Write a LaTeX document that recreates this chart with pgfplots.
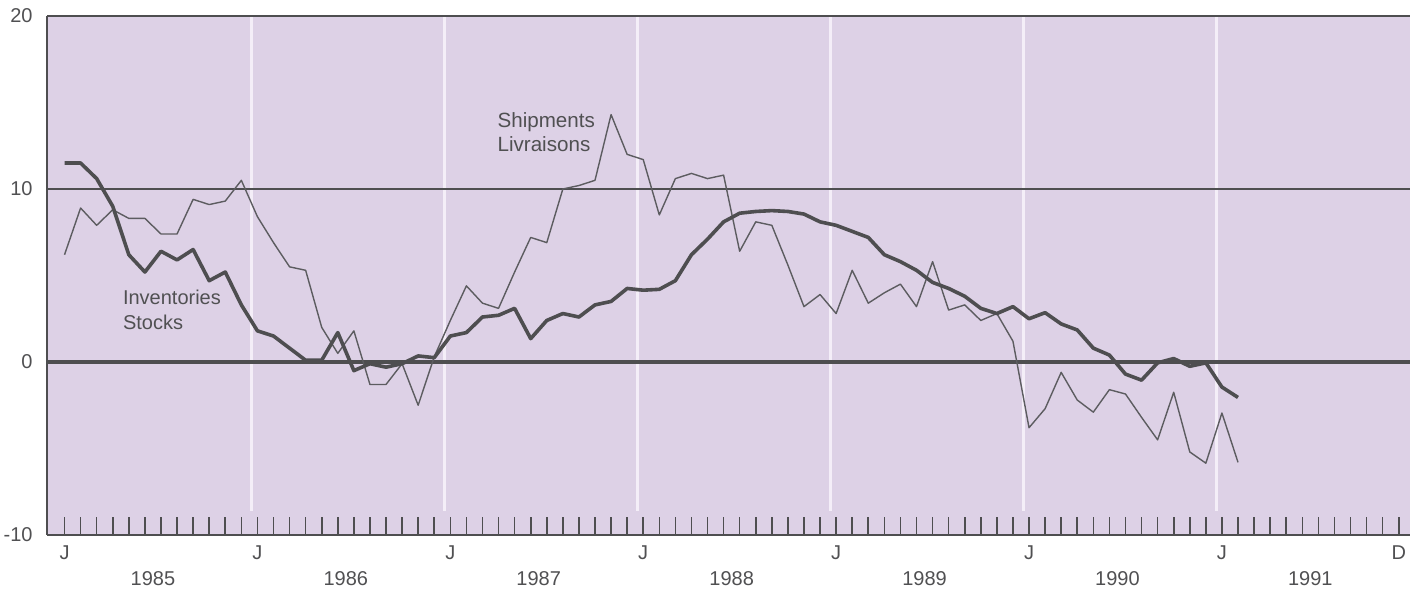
\documentclass[border=0pt]{standalone}
\usepackage{fontspec}
\setmainfont{Liberation Sans}
\usepackage{pgfplots}
\pgfplotsset{compat=1.18}
\definecolor{lav}{RGB}{221,209,230}
\definecolor{ln}{RGB}{78,78,80}
\definecolor{shipc}{RGB}{92,92,96}
\definecolor{txt}{RGB}{80,80,82}
\definecolor{wl}{RGB}{244,238,248}
\begin{document}
\begin{tikzpicture}
\begin{axis}[
  scale only axis, width=681.5pt, height=259.5pt,
  xmin=-1.09, xmax=83.7, ymin=-10, ymax=20,
  axis background/.style={fill=lav},
  axis lines*=left,
  axis line style={ln, line width=1pt},
  /pgf/number format/assume math mode=true,
  ytick={-10,0,10,20},
  ytick style={draw=none},
  yticklabel style={font=\fontsize{10}{12}\selectfont, text=txt, xshift=-3.7pt},
  xtick={0,12,24,36,48,60,72,83},
  xticklabels={J,J,J,J,J,J,J,D},
  minor xtick={1,...,82},
  tick align=inside,
  major tick length=9pt, minor tick length=9pt,
  major x tick style={ln, line width=0.8pt},
  minor x tick style={ln, line width=0.8pt},
  xticklabel style={font=\fontsize{10}{12}\selectfont, text=txt, yshift=-2pt},
  extra x ticks={5.5,17.5,29.5,41.5,53.5,65.5,77.5},
  extra x tick labels={1985,1986,1987,1988,1989,1990,1991},
  extra x tick style={major x tick style={draw=none}, tick label style={yshift=-12.6pt}},
]
\pgfplotsinvokeforeach{11.65,23.65,35.65,47.65,59.65,71.65}{
  \draw[wl, line width=1.6pt] (axis cs:#1,-8.6) -- (axis cs:#1,20);
}
\draw[ln, line width=0.8pt] (axis cs:-1.09,10) -- (axis cs:83.7,10);
\draw[ln, line width=1.6pt] (axis cs:-1.09,0) -- (axis cs:83.7,0);
\draw[ln, line width=0.9pt] (rel axis cs:0,1) -- (rel axis cs:1,1);

% Shipments / Livraisons
\addplot[color=shipc, line width=0.7pt, line join=round, mark=none] coordinates {
(0,6.2) (1,8.9) (2,7.9) (3,8.8) (4,8.3) (5,8.3) (6,7.4) (7,7.4) (8,9.4) (9,9.1) (10,9.3) (11,10.5)
(12,8.4) (13,6.9) (14,5.5) (15,5.3) (16,2.0) (17,0.5) (18,1.8) (19,-1.3) (20,-1.3) (21,-0.1) (22,-2.5) (23,0.3)
(24,2.4) (25,4.4) (26,3.4) (27,3.1) (28,5.2) (29,7.2) (30,6.9) (31,10.0) (32,10.2) (33,10.5) (34,14.3) (35,12.0)
(36,11.7) (37,8.5) (38,10.6) (39,10.9) (40,10.6) (41,10.8) (42,6.4) (43,8.1) (44,7.9) (45,5.6) (46,3.2) (47,3.9)
(48,2.8) (49,5.3) (50,3.4) (51,4.0) (52,4.5) (53,3.2) (54,5.8) (55,3.0) (56,3.3) (57,2.4) (58,2.8) (59,1.2)
(60,-3.8) (61,-2.7) (62,-0.6) (63,-2.2) (64,-2.9) (65,-1.6) (66,-1.85) (67,-3.2) (68,-4.5) (69,-1.75) (70,-5.2) (71,-5.85)
(72,-2.95) (73,-5.8)
};
% Inventories / Stocks
\addplot[color=ln, line width=1.8pt, line join=round, mark=none] coordinates {
(0,11.5) (1,11.5) (2,10.6) (3,9.0) (4,6.2) (5,5.2) (6,6.4) (7,5.9) (8,6.5) (9,4.7) (10,5.2) (11,3.3)
(12,1.8) (13,1.5) (14,0.8) (15,0.1) (16,0.1) (17,1.7) (18,-0.5) (19,-0.1) (20,-0.3) (21,-0.1) (22,0.35) (23,0.25)
(24,1.5) (25,1.7) (26,2.6) (27,2.7) (28,3.1) (29,1.35) (30,2.4) (31,2.8) (32,2.6) (33,3.3) (34,3.5) (35,4.25)
(36,4.15) (37,4.2) (38,4.7) (39,6.2) (40,7.1) (41,8.1) (42,8.6) (43,8.7) (44,8.75) (45,8.7) (46,8.55) (47,8.1)
(48,7.9) (49,7.55) (50,7.2) (51,6.2) (52,5.8) (53,5.3) (54,4.6) (55,4.25) (56,3.8) (57,3.1) (58,2.8) (59,3.2)
(60,2.5) (61,2.85) (62,2.2) (63,1.85) (64,0.8) (65,0.4) (66,-0.7) (67,-1.05) (68,-0.05) (69,0.2) (70,-0.25) (71,-0.05)
(72,-1.45) (73,-2.05)
};
\node[anchor=west, align=left, text=txt, font=\fontsize{10}{12.5}\selectfont] at (axis cs:3.2,3.0) {Inventories\\Stocks};
\node[anchor=west, align=left, text=txt, font=\fontsize{10.3}{12.2}\selectfont] at (axis cs:26.5,13.3) {Shipments\\Livraisons};
\end{axis}
\pgfresetboundingbox
\path (current axis.south west) +(-23.5pt,-27.5pt) coordinate (bl);
\path (current axis.north east) +(0pt,8pt) coordinate (tr);
\path (bl) rectangle (tr);
\end{tikzpicture}
\end{document}
